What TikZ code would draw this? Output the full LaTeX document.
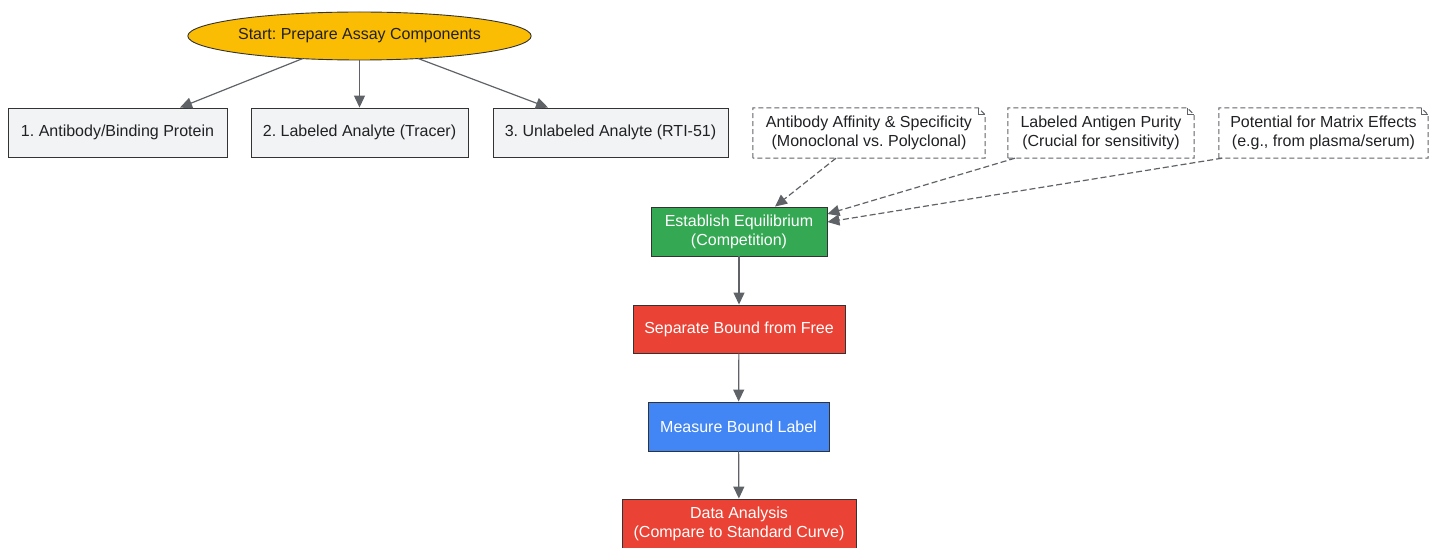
\documentclass[tikz,border=0pt]{standalone}
\usepackage{fontspec}
\setmainfont{Liberation Sans}
\usetikzlibrary{shapes.geometric,arrows.meta}
\frenchspacing
\definecolor{ygold}{HTML}{FBBC04}
\definecolor{ggreen}{HTML}{34A853}
\definecolor{gred}{HTML}{EA4335}
\definecolor{gblue}{HTML}{4285F4}
\definecolor{glight}{HTML}{F1F3F4}
\definecolor{gtext}{HTML}{202124}
\definecolor{garrow}{HTML}{5F6368}
\definecolor{gborder}{HTML}{333333}
\tikzset{
  every node/.style={font=\fontsize{16}{19}\selectfont, align=center, inner sep=0pt},
  base/.style={draw=gborder, line width=0.9pt, minimum height=49pt},
  startnode/.style={base, ellipse, fill=ygold, text=gtext, minimum width=339pt, minimum height=48pt},
  compbox/.style={base, rectangle, fill=glight, text=gtext},
  stepbox/.style={base, rectangle, text=white},
  notebox/.style={rectangle, text=gtext, minimum height=50pt},
  noteline/.style={draw=garrow, line width=1pt, dash pattern=on 5pt off 3pt},
  arr/.style={draw=garrow, line width=1.2pt, -{Triangle[length=12pt,width=11pt]}},
  darr/.style={arr, dash pattern=on 6pt off 3pt},
}
\begin{document}
\begin{tikzpicture}[x=1pt,y=-1pt]
\useasboundingbox (0,0) rectangle (1438,548);
\node[startnode] (start) at (359.5,36) {Start: Prepare Assay Components};
\node[compbox, minimum width=219pt] (c1) at (117.5,132.5) {1. Antibody/Binding Protein};
\node[compbox, minimum width=217pt] (c2) at (359.5,132.5) {2. Labeled Analyte (Tracer)};
\node[compbox, minimum width=235pt] (c3) at (610.5,132.5) {3. Unlabeled Analyte (RTI-51)};
\node[notebox, minimum width=232pt] (n1) at (869,133) {Antibody Affinity \& Specificity\\(Monoclonal vs. Polyclonal)};
\node[notebox, minimum width=186pt] (n2) at (1101,133) {Labeled Antigen Purity\\(Crucial for sensitivity)};
\node[notebox, minimum width=209pt] (n3) at (1323.5,133) {Potential for Matrix Effects\\(e.g., from plasma/serum)};
\node[stepbox, fill=ggreen, minimum width=176pt] (eq) at (739,231.5) {Establish Equilibrium\\(Competition)};
\node[stepbox, fill=gred, minimum width=212pt, minimum height=48pt] (sep) at (739,329) {Separate Bound from Free};
\node[stepbox, fill=gblue, minimum width=181pt] (meas) at (738.5,426.5) {Measure Bound Label};
\node[stepbox, fill=gred, minimum width=234pt] (data) at (739,523.5) {Data Analysis\\(Compare to Standard Curve)};
\foreach \n in {n1,n2,n3}{
  \draw[noteline] (\n.south west) -- (\n.north west) -- ([xshift=-7pt]\n.north east) -- ([yshift=-7pt]\n.north east) -- (\n.south east) -- cycle;
  \draw[draw=garrow, line width=0.8pt] ([xshift=-7pt]\n.north east) -- ([xshift=-7pt,yshift=-7pt]\n.north east) -- ([yshift=-7pt]\n.north east);
}
\draw[arr] (start.south -| 303,0) ++(0,-2) -- (c1.north -| 180,0);
\draw[arr] (start) -- (c2);
\draw[arr] (start.south -| 418,0) ++(0,-2) -- (c3.north -| 548,0);
\draw[darr] (n1.south -| 836,0) -- (eq.north -| 775,0);
\draw[darr] (n2.south -| 1015,0) -- (eq.east |- 0,214);
\draw[darr] (n3.south -| 1222,0) -- (eq.east |- 0,222);
\draw[arr] (eq) -- (sep);
\draw[arr] (sep) -- (meas);
\draw[arr] (meas) -- (data);
\end{tikzpicture}
\end{document}
